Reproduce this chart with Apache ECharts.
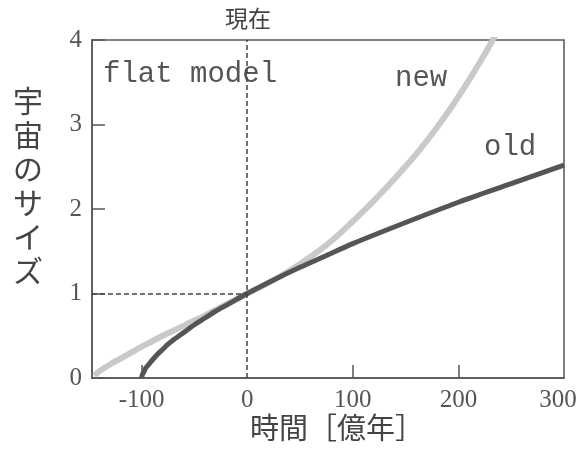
<!DOCTYPE html>
<html>
<head>
<meta charset="utf-8">
<script src="https://cdn.jsdelivr.net/npm/echarts@6/dist/echarts.min.js"></script>
<style>html,body{margin:0;padding:0;background:#fff;}#c{width:579px;height:452px;}</style>
</head>
<body>
<div id="c"></div>
<script>
// Time in 億年 (0 = now), universe size relative to now
var oldT = [-100, -99.5, -99, -98, -96, -94, -92, -90, -85, -80, -75, -70, -60, -50, -40, -30, -20, -10, 0, 25, 50, 75, 100, 150, 200, 250, 300];
var oldA = [0, 0.03, 0.05, 0.07, 0.12, 0.15, 0.18, 0.21, 0.28, 0.34, 0.40, 0.45, 0.54, 0.63, 0.71, 0.79, 0.86, 0.93, 1.00, 1.16, 1.31, 1.45, 1.59, 1.84, 2.08, 2.30, 2.52];
var newT = [-145, -140, -130, -120, -110, -100, -90, -80, -70, -60, -50, -40, -30, -20, -10, 0, 10, 20, 30, 40, 50, 60, 70, 80, 90, 100, 110, 120, 130, 140, 150, 160, 170, 180, 190, 200, 210, 220, 230, 240];
var newA = [0.03, 0.08, 0.16, 0.23, 0.30, 0.37, 0.435, 0.50, 0.56, 0.62, 0.68, 0.74, 0.805, 0.87, 0.935, 1.00, 1.06, 1.125, 1.195, 1.27, 1.35, 1.435, 1.525, 1.625, 1.735, 1.855, 1.975, 2.10, 2.23, 2.365, 2.505, 2.65, 2.805, 2.97, 3.145, 3.33, 3.525, 3.73, 3.945, 4.17];
var xTickLabels = [-100, 0, 100, 200, 300];
var xTicks = [-100, 100, 200];
var xRange = [-147, 300];
var yRange = [0, 4];
var nowX = 0;
var nowY = 1;
var xName = '時間［億年］';
var yName = '宇宙のサイズ';
var nowLabel = '現在';
var modelLabel = 'flat model';
var newLabel = 'new';
var oldLabel = 'old';

function pairs(t, a) { return t.map(function (v, i) { return [v, a[i]]; }); }

var chart = echarts.init(document.getElementById('c'));
var axisColor = '#555';
var serif = '"Liberation Serif", "DejaVu Serif", serif';
var mono = '"Liberation Mono", "DejaVu Sans Mono", monospace';
var cjk = '"Noto Sans CJK JP", "Noto Sans", sans-serif';

chart.setOption({
  backgroundColor: '#fff',
  animation: false,
  grid: { left: 92, right: 15, top: 40, bottom: 74, outerBoundsMode: 'none', containLabel: false, show: true, borderColor: axisColor, borderWidth: 1.5, backgroundColor: 'transparent' },
  xAxis: {
    type: 'value', min: xRange[0], max: xRange[1],
    axisLine: { show: true, onZero: false, lineStyle: { color: axisColor, width: 1.5 } },
    axisTick: { show: true, inside: true, length: 13, customValues: xTicks, lineStyle: { color: axisColor, width: 1.5 } },
    axisLabel: {
      customValues: xTickLabels, color: '#555', fontFamily: serif, fontSize: 25, margin: 10,
      showMinLabel: true, showMaxLabel: true, hideOverlap: false,
      formatter: function (v) { return v === xRange[1] ? '{r|' + v + '}' : String(v); },
      rich: { r: { color: '#555', fontFamily: serif, fontSize: 25, padding: [0, 12, 0, 0] } }
    },
    splitLine: { show: false }
  },
  yAxis: {
    type: 'value', min: yRange[0], max: yRange[1], interval: 1,
    axisLine: { show: true, onZero: false, lineStyle: { color: axisColor, width: 1.5 } },
    axisTick: { show: true, inside: true, length: 13, lineStyle: { color: axisColor, width: 1.5 } },
    axisLabel: { color: '#555', fontFamily: serif, fontSize: 25, margin: 10 },
    splitLine: { show: false }
  },
  series: [
    {
      type: 'line', data: pairs(newT, newA), showSymbol: false, smooth: 0.3, clip: true,
      lineStyle: { color: '#c9c9c9', width: 6 }, z: 2
    },
    {
      type: 'line', data: pairs(oldT, oldA), showSymbol: false, smooth: 0.3, clip: true,
      lineStyle: { color: '#555', width: 5 }, z: 3,
      markLine: {
        silent: true, symbol: 'none', label: { show: false },
        lineStyle: { color: '#444', width: 1.5, type: [5, 3] },
        data: [
          [{ coord: [nowX, yRange[0]] }, { coord: [nowX, yRange[1]] }],
          [{ coord: [xRange[0], nowY] }, { coord: [nowX, nowY] }]
        ]
      }
    }
  ],
  graphic: [
    { type: 'text', left: 225, top: 7, style: { text: nowLabel, font: '23px ' + cjk, fill: '#444' } },
    { type: 'text', left: 103, top: 60, style: { text: modelLabel, font: '29px ' + mono, fill: '#555' } },
    { type: 'text', left: 395, top: 64, style: { text: newLabel, font: '29px ' + mono, fill: '#555' } },
    { type: 'text', left: 484, top: 133, style: { text: oldLabel, font: '29px ' + mono, fill: '#555' } },
    { type: 'text', left: 250, top: 413, style: { text: xName, font: '29px ' + cjk, fill: '#444' } },
    { type: 'text', left: 13, top: 84, style: { text: yName.split('').join('\n'), font: '30px ' + cjk, fill: '#444', lineHeight: 34, align: 'left' } }
  ]
});
</script>
</body>
</html>
